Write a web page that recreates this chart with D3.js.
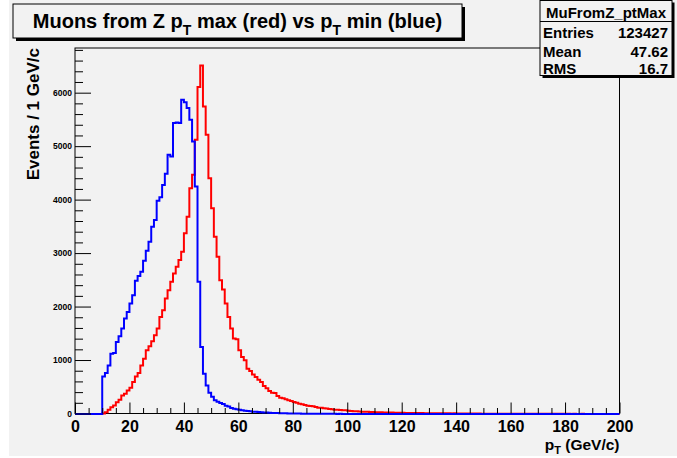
<!DOCTYPE html>
<html>
<head>
<meta charset="utf-8">
<script src="https://cdn.jsdelivr.net/npm/d3@7/dist/d3.min.js"></script>
<style>
  html, body { margin: 0; padding: 0; background: #ffffff; }
  svg { display: block; }
  text { font-family: "Liberation Sans", Arial, Helvetica, sans-serif; font-weight: bold; fill: #000; }
</style>
</head>
<body>
<svg id="chart" width="677" height="458"></svg>
<script>
// Histogram binning: 200 bins of 1 GeV/c from 0 to 200
const nBins = 200;
const xMin = 0;
const xMax = 200;

// Leading muon pT (pT max), entries per bin
const ptMaxCounts = [
  0,0,0,0,0,0,0,0,0,0,
  10,35,78,128,159,221,265,346,378,440,
  490,596,702,764,908,1033,1189,1264,1358,1470,
  1595,1813,1938,2157,2313,2468,2625,2749,2875,3030,
  3375,3685,4217,4466,5122,6109,6510,5745,5215,4404,
  3843,3311,2936,2500,2326,2064,1813,1595,1408,1395,
  1189,1064,1002,846,802,740,690,640,596,523,
  480,430,398,392,336,305,293,274,255,243,
  224,212,193,180,168,156,150,143,131,118,
  118,106,104,94,87,81,80,75,69,68,
  60,55,52,50,46,44,42,40,38,36,
  34,33,31,30,28,27,26,25,24,23,
  22,21,21,19,19,18,17,17,16,16,
  15,15,14,13,13,13,12,12,11,12,
  10,10,10,9,9,9,8,9,8,7,
  7,7,7,6,6,6,6,5,6,5,
  5,5,5,4,5,4,4,4,4,4,
  4,3,4,3,3,3,3,3,3,3,
  3,3,2,3,2,2,3,2,2,2,
  2,2,2,2,2,2,1,2,2,2
];

// Second muon pT (pT min), entries per bin
const ptMinCounts = [
  0,0,0,0,0,0,0,0,0,0,
  702,764,908,1127,1139,1345,1451,1595,1783,1906,
  2063,2219,2487,2575,2656,2862,3049,3218,3498,3624,
  3985,4049,4279,4485,4841,4809,5434,5446,5434,5870,
  5820,5715,5496,5090,4247,2468,1251,753,534,397,
  322,258,230,206,187,155,140,112,100,88,
  80,70,62,55,50,44,40,36,32,29,
  26,23,21,19,17,15,13,12,11,10,
  9,8,8,7,6,6,5,5,5,4,
  4,4,3,3,3,3,2,3,2,2,
  2,2,2,1,2,1,1,1,1,1,
  1,1,1,1,0,1,1,0,1,0,
  0,1,0,0,1,0,0,0,0,0,
  0,0,0,0,0,0,0,0,0,0,
  0,0,0,0,0,0,0,0,0,0,
  0,0,0,0,0,0,0,0,0,0,
  0,0,0,0,0,0,0,0,0,0,
  0,0,0,0,0,0,0,0,0,0,
  0,0,0,0,0,0,0,0,0,0,
  0,0,0,0,0,0,0,0,0,0
];

// Axis ticks
const xMajorTicks = [0, 20, 40, 60, 80, 100, 120, 140, 160, 180, 200];
const yMajorTicks = [0, 1000, 2000, 3000, 4000, 5000, 6000];

// Statistics box rows
const statsTitle = "MuFromZ_ptMax";
const statsLabels = ["Entries", "Mean", "RMS"];
const statsValues = ["123427", "47.62", "16.7"];

const svg = d3.select("#chart");
const W = 677, H = 458;
const frame = { left: 75, right: 619.5, top: 48, bottom: 413.5 };
const bg = "#f2f2f2";

// canvas background
svg.append("rect").attr("x", 9).attr("y", 0).attr("width", W - 9).attr("height", 456).attr("fill", bg);

const binWidth = (xMax - xMin) / nBins;
const yTop = 1.05 * d3.max([d3.max(ptMaxCounts), d3.max(ptMinCounts)]);

const x = d3.scaleLinear().domain([xMin, xMax]).range([frame.left, frame.right]);
const y = d3.scaleLinear().domain([0, yTop]).range([frame.bottom, frame.top]);
// histogram outlines sit on whole pixels so the 2px strokes stay crisp at zero
const yHist = d3.scaleLinear().domain([0, yTop]).range([414, frame.top]);

// frame fill and border (histograms are drawn over the border)
svg.append("rect")
  .attr("x", frame.left).attr("y", frame.top)
  .attr("width", frame.right - frame.left).attr("height", frame.bottom - frame.top)
  .attr("fill", bg).attr("stroke", "#000").attr("stroke-width", 1);

svg.append("defs").append("clipPath").attr("id", "plotClip")
  .append("rect")
  .attr("x", frame.left - 1).attr("y", frame.top)
  .attr("width", frame.right - frame.left + 2).attr("height", frame.bottom - frame.top + 2);

// step outline for a histogram
function histPoints(counts) {
  const pts = counts.map((c, i) => [xMin + i * binWidth, c]);
  pts.push([xMax, counts[counts.length - 1]]);
  return pts;
}
const stepLine = d3.line()
  .x(d => x(d[0]))
  .y(d => yHist(d[1]))
  .curve(d3.curveStepAfter);

const plot = svg.append("g").attr("clip-path", "url(#plotClip)");
plot.append("path")
  .attr("d", stepLine(histPoints(ptMaxCounts)))
  .attr("fill", "none").attr("stroke", "#ff0000").attr("stroke-width", 2)
  .attr("stroke-linejoin", "miter");
plot.append("path")
  .attr("d", stepLine(histPoints(ptMinCounts)))
  .attr("fill", "none").attr("stroke", "#0000ff").attr("stroke-width", 2)
  .attr("stroke-linejoin", "miter");

// x axis: major ticks every 20, minor every 5
const xMinor = d3.range(xMin, xMax + 0.001, 5).filter(v => v % 20 !== 0);
const xAxisMinor = svg.append("g").attr("transform", `translate(0,${frame.bottom})`)
  .call(d3.axisBottom(x).tickValues(xMinor).tickSize(-5.5).tickFormat(""));
const xAxisMajor = svg.append("g").attr("transform", `translate(0,${frame.bottom})`)
  .call(d3.axisBottom(x).tickValues(xMajorTicks).tickSize(-11).tickPadding(7.5).tickFormat(d3.format("d")));
xAxisMajor.selectAll("text").attr("font-size", 16);

// y axis: major ticks every 1000, minor every 200
const yMinor = d3.range(0, yTop, 200).filter(v => v % 1000 !== 0);
const yAxisMinor = svg.append("g").attr("transform", `translate(${frame.left},0)`)
  .call(d3.axisLeft(y).tickValues(yMinor).tickSize(-8).tickFormat(""));
const yAxisMajor = svg.append("g").attr("transform", `translate(${frame.left},0)`)
  .call(d3.axisLeft(y).tickValues(yMajorTicks).tickSize(-16).tickPadding(3).tickFormat(d3.format("d")));
yAxisMajor.selectAll("text").attr("font-size", 8.5);

[xAxisMinor, xAxisMajor, yAxisMinor, yAxisMajor].forEach(g => {
  g.select(".domain").remove();
  g.attr("font-family", null).attr("font-size", null);
  g.selectAll("line").attr("stroke", "#000").attr("stroke-width", 1);
});

// x axis title: pT (GeV/c)
const xt = svg.append("text").attr("x", frame.right).attr("y", 450)
  .attr("text-anchor", "end").attr("font-size", 15.5);
xt.append("tspan").text("p");
xt.append("tspan").attr("font-size", 11).attr("dy", 4).text("T");
xt.append("tspan").attr("dy", -4).text(" (GeV/c)");

// y axis title
svg.append("text")
  .attr("transform", `translate(39,${frame.top}) rotate(-90)`)
  .attr("text-anchor", "end").attr("font-size", 17)
  .text("Events / 1 GeV/c");

// title box with shadow
const tb = { x: 13, y: 4, w: 449, h: 34 };
svg.append("rect").attr("x", tb.x + 3).attr("y", tb.y + 3).attr("width", tb.w).attr("height", tb.h).attr("fill", "#000");
svg.append("rect").attr("x", tb.x).attr("y", tb.y).attr("width", tb.w).attr("height", tb.h)
  .attr("fill", bg).attr("stroke", "#000").attr("stroke-width", 1);
const title = svg.append("text").attr("x", tb.x + tb.w / 2).attr("y", 28)
  .attr("text-anchor", "middle").attr("font-size", 20);
title.append("tspan").text("Muons from Z p");
title.append("tspan").attr("font-size", 14).attr("dy", 7).text("T");
title.append("tspan").attr("dy", -7).text(" max (red) vs p");
title.append("tspan").attr("font-size", 14).attr("dy", 7).text("T");
title.append("tspan").attr("dy", -7).text(" min (blue)");

// statistics box with shadow
const sb = { x: 540, y: 0, w: 132, h: 75.5 };
svg.append("rect").attr("x", sb.x + 2.5).attr("y", sb.y + 2.5).attr("width", sb.w).attr("height", sb.h).attr("fill", "#000");
svg.append("rect").attr("x", sb.x).attr("y", sb.y + 0.5).attr("width", sb.w).attr("height", sb.h - 0.5)
  .attr("fill", bg).attr("stroke", "#000").attr("stroke-width", 1);
svg.append("line").attr("x1", sb.x).attr("x2", sb.x + sb.w).attr("y1", 21.5).attr("y2", 21.5)
  .attr("stroke", "#000").attr("stroke-width", 1);
svg.append("text").attr("x", sb.x + sb.w / 2).attr("y", 18).attr("text-anchor", "middle")
  .attr("font-size", 15).text(statsTitle);
const rowY = [37.5, 56.5, 74];
statsLabels.forEach((lab, i) => {
  svg.append("text").attr("x", sb.x + 3).attr("y", rowY[i]).attr("font-size", 15).text(lab);
  svg.append("text").attr("x", sb.x + sb.w - 4).attr("y", rowY[i]).attr("text-anchor", "end")
    .attr("font-size", 15).text(statsValues[i]);
});
</script>
</body>
</html>
